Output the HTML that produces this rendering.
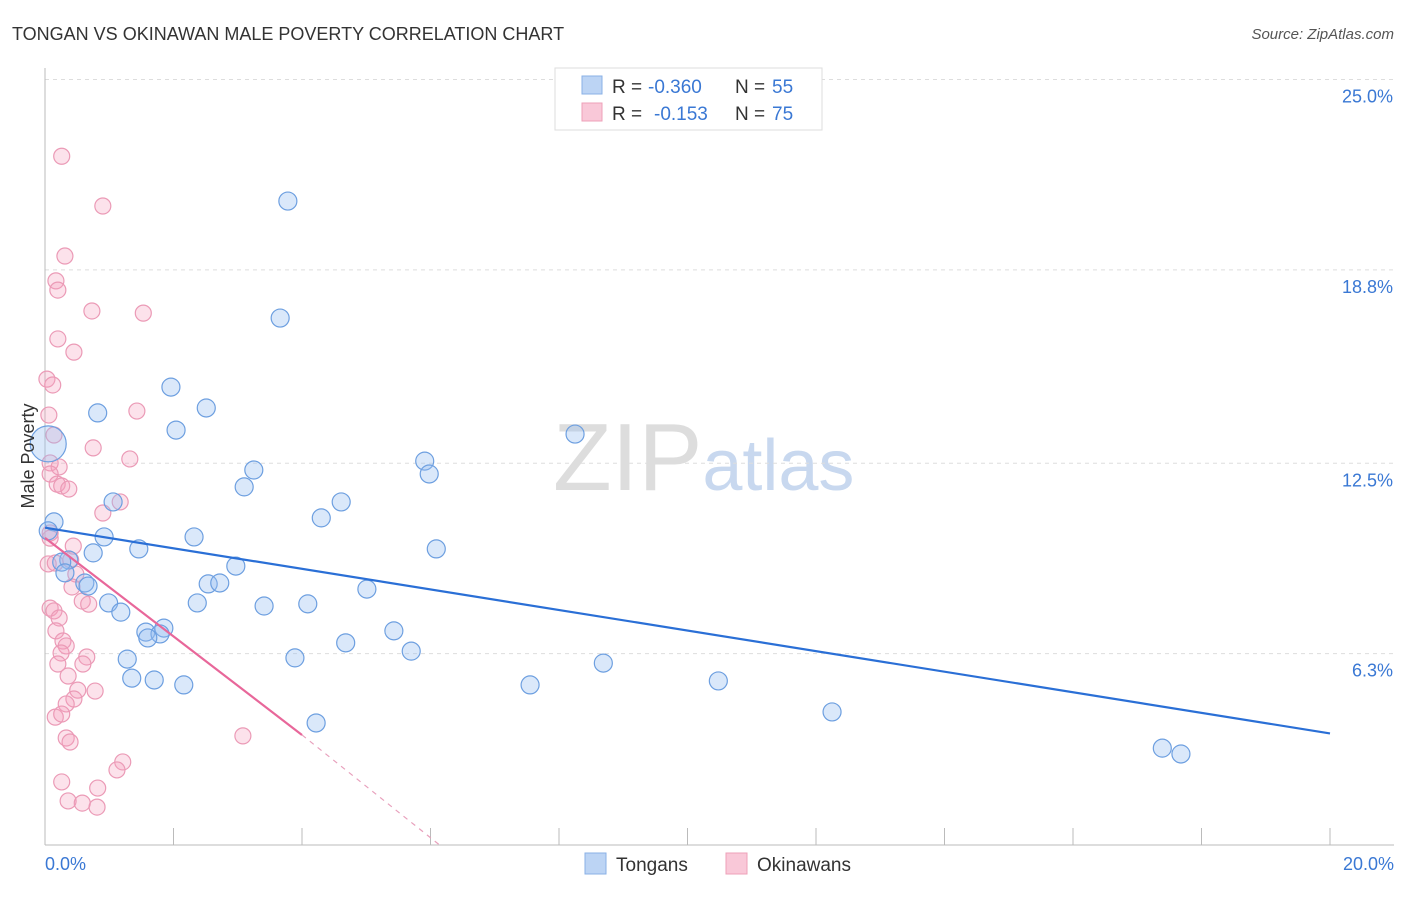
<!DOCTYPE html>
<html><head><meta charset="utf-8"><style>
body{margin:0;background:#fff;font-family:"Liberation Sans",sans-serif;}
svg text{font-family:"Liberation Sans",sans-serif;}
</style></head><body>
<svg id="chart" width="1406" height="892" xmlns="http://www.w3.org/2000/svg">
<text x="12" y="40" font-size="18" fill="#333">TONGAN VS OKINAWAN MALE POVERTY CORRELATION CHART</text>
<text x="1394" y="39" font-size="15" fill="#555" text-anchor="end" font-style="italic">Source: ZipAtlas.com</text>
<text x="553" y="490" font-size="96" fill="#ddd" font-family="Liberation Serif">ZIP<tspan fill="#c8d8ef" font-family="Liberation Sans" font-size="72">atlas</tspan></text>
<g id="grid"></g>
<g id="axes"></g>
<g id="marks"></g>
<text transform="translate(34,456) rotate(-90)" font-size="18" fill="#333" text-anchor="middle">Male Poverty</text>
<g>
<rect x="555" y="68" width="267" height="62" fill="#fff" stroke="#ddd"/>
<rect x="582" y="76" width="20" height="18" fill="#bcd4f4" stroke="#8ab0e6"/>
<rect x="582" y="103" width="20" height="18" fill="#f9c8d8" stroke="#eea0b8"/>
<text x="612" y="93" font-size="19" fill="#333">R =</text>
<text x="648" y="93" font-size="19" fill="#3a78d4">-0.360</text>
<text x="735" y="93" font-size="19" fill="#333">N =</text>
<text x="772" y="93" font-size="19" fill="#3a78d4">55</text>
<text x="612" y="120" font-size="19" fill="#333">R =</text>
<text x="654" y="120" font-size="19" fill="#3a78d4">-0.153</text>
<text x="735" y="120" font-size="19" fill="#333">N =</text>
<text x="772" y="120" font-size="19" fill="#3a78d4">75</text>
</g>
<g>
<rect x="585" y="853" width="21" height="21" fill="#bcd4f4" stroke="#8ab0e6"/>
<text x="616" y="871" font-size="19" fill="#333">Tongans</text>
<rect x="726" y="853" width="21" height="21" fill="#f9c8d8" stroke="#eea0b8"/>
<text x="757" y="871" font-size="19" fill="#333">Okinawans</text>
</g>
</svg>
<script>
const yTicks=[25.0,18.8,12.5,6.3];
const yTickLabels=["25.0%","18.8%","12.5%","6.3%"];
const xTickLabels=["0.0%","20.0%"];
const blueX=[3.78,3.66,1.96,2.51,0.82,2.04,8.25,3.25,5.91,5.98,3.10,4.61,1.06,4.30,0.14,2.32,0.92,1.46,0.75,6.09,2.97,0.37,0.26,0.31,0.62,0.67,2.54,2.72,5.01,0.99,2.37,3.41,4.09,1.18,1.85,1.57,1.79,1.60,5.43,4.68,5.70,1.28,3.89,8.69,1.35,1.70,2.16,7.55,10.48,4.22,12.25,17.39,17.68,0.05,0.05];
const blueY=[21.04,17.23,14.98,14.30,14.14,13.58,13.45,12.28,12.57,12.15,11.73,11.24,11.24,10.72,10.59,10.10,10.10,9.71,9.58,9.71,9.15,9.35,9.28,8.93,8.60,8.50,8.57,8.60,8.40,7.95,7.95,7.85,7.92,7.65,7.13,7.00,6.94,6.81,7.04,6.65,6.38,6.12,6.16,5.99,5.50,5.44,5.28,5.28,5.41,4.04,4.40,3.22,3.03,13.13,10.30];
const blueR=[9,9,9,9,9,9,9,9,9,9,9,9,9,9,9,9,9,9,9,9,9,9,9,9,9,9,9,9,9,9,9,9,9,9,9,9,9,9,9,9,9,9,9,9,9,9,9,9,9,9,9,9,9,18,9];
const pinkX=[0.26,0.90,0.31,0.17,0.20,0.73,1.53,0.20,0.45,0.03,0.12,1.43,0.06,0.14,0.75,1.32,0.08,0.22,0.08,0.19,0.26,0.37,1.17,0.90,0.08,0.44,0.05,0.16,0.40,0.48,0.42,0.58,0.68,0.08,0.14,0.22,0.17,0.28,0.33,0.25,0.65,0.20,0.59,0.36,0.51,0.78,0.45,0.33,0.16,0.26,3.08,0.33,0.39,1.21,1.12,0.26,0.82,0.36,0.58,0.81,0.08];
const pinkY=[22.50,20.88,19.25,18.44,18.14,17.46,17.39,16.55,16.12,15.24,15.05,14.20,14.07,13.42,13.00,12.64,12.51,12.38,12.15,11.82,11.76,11.66,11.24,10.88,10.06,9.80,9.22,9.25,9.35,8.89,8.47,8.01,7.91,7.78,7.69,7.46,7.04,6.71,6.55,6.32,6.19,5.96,5.96,5.57,5.11,5.08,4.82,4.66,4.23,4.33,3.62,3.55,3.42,2.77,2.51,2.12,1.92,1.50,1.43,1.30,10.23];
const blueTrend=[[0,10.4],[20,3.70]];
const pinkTrend=[[0,10.07],[4.0,3.65]];
const pinkDashEnd=[6.15,0.05];
const X=v=>45+v*64.25, Y=v=>847-v*30.7;
const NS="http://www.w3.org/2000/svg";
function mk(parent,tag,attrs){const e=document.createElementNS(NS,tag);for(const k in attrs)e.setAttribute(k,attrs[k]);document.getElementById(parent).appendChild(e);return e;}
yTicks.forEach((t,i)=>{
 const l=mk('grid','line',{x1:45,x2:1394,y1:Y(t),y2:Y(t),stroke:'#ddd','stroke-dasharray':'4,4'});
 
 
 const tx=mk('grid','text',{x:1393,y:Y(t)+23,'font-size':18,fill:'#3a78d4','text-anchor':'end'});
 tx.textContent=yTickLabels[i];
 
 
});
mk('axes','line',{x1:45,x2:45,y1:68,y2:845,stroke:'#bbb'});
mk('axes','line',{x1:45,x2:1394,y1:845,y2:845,stroke:'#bbb'});
for(let i=0;i<=10;i++){const l=mk('axes','line',{x1:X(i*2),x2:X(i*2),y1:828,y2:845,stroke:'#bbb'});
 
 }
const xl0=mk('axes','text',{x:45,y:870,'font-size':18,fill:'#3a78d4'});xl0.textContent=xTickLabels[0];


const xl1=mk('axes','text',{x:1394,y:870,'font-size':18,fill:'#3a78d4','text-anchor':'end'});xl1.textContent=xTickLabels[1];


pinkX.forEach((x,i)=>{const c=mk('marks','circle',{cx:X(x),cy:Y(pinkY[i]),r:8,fill:'rgba(244,160,190,0.3)',stroke:'#eb9ab6','stroke-width':1.2});
 
 });
blueX.forEach((x,i)=>{const c=mk('marks','circle',{cx:X(x),cy:Y(blueY[i]),r:blueR[i],fill:'rgba(150,190,240,0.35)',stroke:'#6d9fe0','stroke-width':1.2});
 
 });
const bt=mk('marks','line',{x1:X(blueTrend[0][0]),y1:Y(blueTrend[0][1]),x2:X(blueTrend[1][0]),y2:Y(blueTrend[1][1]),stroke:'#2a6fd6','stroke-width':2.2});


const pt=mk('marks','line',{x1:X(pinkTrend[0][0]),y1:Y(pinkTrend[0][1]),x2:X(pinkTrend[1][0]),y2:Y(pinkTrend[1][1]),stroke:'#e8679a','stroke-width':2.2});


const pd=mk('marks','line',{x1:X(pinkTrend[1][0]),y1:Y(pinkTrend[1][1]),x2:X(pinkDashEnd[0]),y2:Y(pinkDashEnd[1]),stroke:'#e8a0bc','stroke-width':1.2,'stroke-dasharray':'5,5'});


</script>
</body></html>
